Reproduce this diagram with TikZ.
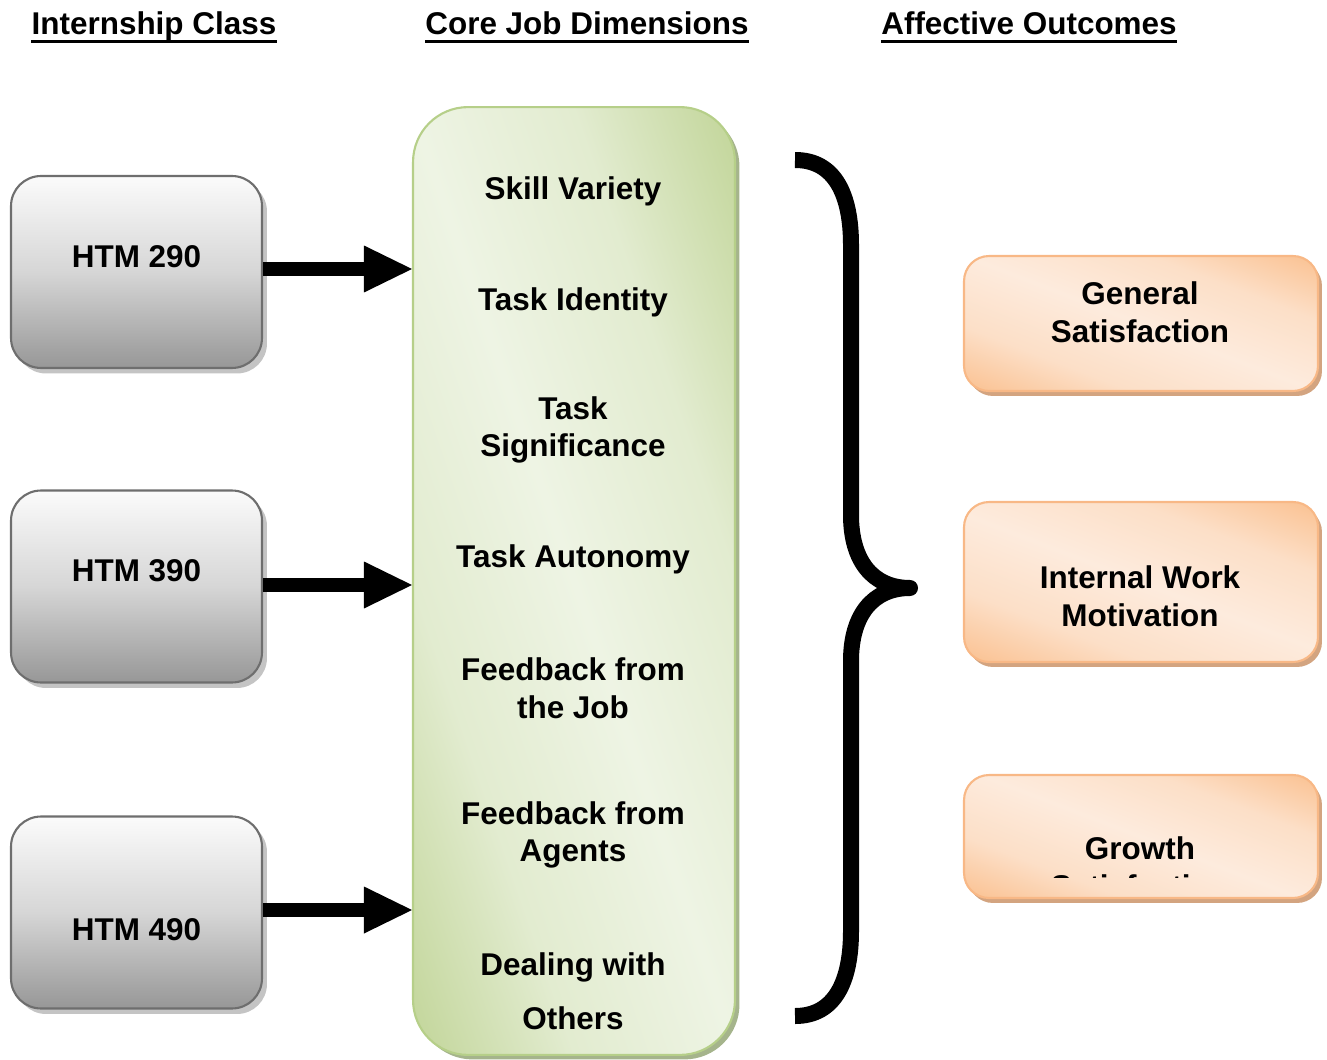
\documentclass[tikz,border=0pt]{standalone}
\usepackage{fontspec}
\setmainfont{Liberation Sans}
\usetikzlibrary{arrows.meta,shadows,positioning}

\definecolor{boxline}{HTML}{6E6E6E}
\definecolor{greylight}{HTML}{FBFBFB}
\definecolor{greymid}{HTML}{D6D6D6}
\definecolor{greydark}{HTML}{979797}
\definecolor{greyshadow}{HTML}{C4C4C4}
\definecolor{greenlight}{HTML}{EEF4E4}
\definecolor{greendark}{HTML}{C3D69B}
\colorlet{greenmix}{greenlight!72!greendark}
\definecolor{greenline}{HTML}{B6CF89}
\definecolor{greenshadow}{HTML}{A5B48C}
\definecolor{orangelight}{HTML}{FDEBDD}
\definecolor{orangedark}{HTML}{FAC08F}
\colorlet{orangemix}{orangelight!72!orangedark}
\definecolor{orangeline}{HTML}{F8B886}
\definecolor{orangeshadow}{HTML}{D3A480}

\pgfdeclareverticalshading{greenband}{100bp}{color(0bp)=(greendark); color(19bp)=(greendark);
      color(34bp)=(greenmix); color(50bp)=(greenlight); color(66bp)=(greenmix);
      color(81bp)=(greendark); color(100bp)=(greendark)}
\pgfdeclareverticalshading{orangeband}{100bp}{color(0bp)=(orangedark); color(17bp)=(orangedark);
      color(33bp)=(orangemix); color(50bp)=(orangelight); color(67bp)=(orangemix);
      color(83bp)=(orangedark); color(100bp)=(orangedark)}

\begin{document}
\begin{tikzpicture}[
      x = 0.02cm, y = -0.02cm,
      every node/.style = {font = \fontsize{17.9}{21.5}\selectfont\bfseries, align = center},
      header/.style = {inner sep = 0pt, text depth = 3.4pt, anchor = base},
      classbox/.style = {draw = boxline, line width = 1.2pt, rounded corners = 0.6cm,
            minimum width = 5.02cm, minimum height = 3.84cm,
            top color = greylight, bottom color = greydark, middle color = greymid,
            drop shadow = {shadow xshift = 0.1cm, shadow yshift = -0.11cm, fill = greyshadow, opacity = 1}},
      corebox/.style = {draw = greenline, line width = 1.2pt, rounded corners = 1.1cm,
            minimum width = 6.44cm, minimum height = 18.96cm,
            drop shadow = {shadow xshift = 0.09cm, shadow yshift = -0.09cm, fill = greenshadow, opacity = 1},
            shade, shading = greenband, shading angle = 109},
      outbox/.style = {draw = orangeline, line width = 1.2pt, rounded corners = 0.5cm,
            minimum width = 7.08cm,
            drop shadow = {shadow xshift = 0.08cm, shadow yshift = -0.1cm, fill = orangeshadow, opacity = 1},
            shade, shading = orangeband, shading angle = 159},
      bigarrow/.style = {line width = 0.28cm, -{Triangle[length = 0.96cm, width = 0.94cm, line width = 0pt]}},
      brace/.style = {line width = 0.32cm, line join = round}
      ]
      \useasboundingbox (0,0) rectangle (1327,1060);

      % column headings
      \node[header] (hdclass) at (154,35) {Internship Class};
      \node[header] (hdcore) at (587,35) {Core Job Dimensions};
      \node[header] (hdout) at (1029,35) {Affective Outcomes};
      \foreach \h in {hdclass, hdcore, hdout}
            \draw[line width = 1.7pt] (\h.south west) -- (\h.south east);

      % internship classes
      \node[classbox] (h290) at (136.5,272) {};
      \node[classbox] (h390) at (136.5,586.5) {};
      \node[classbox] (h490) at (136.5,912.5) {};
      \node (t290) at (136.5,257) {HTM 290};
      \node (t390) at (136.5,571) {HTM 390};
      \node (t490) at (136.5,930) {HTM 490};

      % core job dimensions
      \node[corebox] (core) at (574,581) {};
      \node (skill) at (573,191) {Skill Variety};
      \node (ident) at (573,302) {Task Identity};
      \node (signif) at (573,430) {Task\\Significance};
      \node (auton) at (573,559) {Task Autonomy};
      \node (fbjob) at (573,688) {Feedback from\\the Job};
      \node (fbagent) at (573,835) {Feedback from\\Agents};
      \node (deal) at (573,991) {Dealing with\\[9.5pt]Others};

      \draw[bigarrow] (h290.east |- 0,269) -- (core.west |- 0,269);
      \draw[bigarrow] (h390.east |- 0,585) -- (core.west |- 0,585);
      \draw[bigarrow] (h490.east |- 0,910) -- (core.west |- 0,910);

      % brace
      \draw[brace] (795,160) .. controls (835,160) and (851,195) .. (851,245)
            -- (851,515) .. controls (851,560) and (872,588) .. (910,588)
            .. controls (872,588) and (851,616) .. (851,661)
            -- (851,931) .. controls (851,981) and (835,1016) .. (795,1016);

      % affective outcomes
      \node[outbox, minimum height = 2.7cm] (gensat) at (1141,323.5) {};
      \node[outbox, minimum height = 3.2cm] (intmot) at (1141,582) {};
      \node[outbox, minimum height = 2.46cm] (growth) at (1141,836.5) {};
      \node (tgensat) at (1140,312) {General\\Satisfaction};
      \node (tintmot) at (1140,596) {Internal Work\\Motivation};
      \begin{scope}
            \clip (960,760) rectangle (1320,877);
            \node (tgrowth) at (1140,867) {Growth\\Satisfaction};
      \end{scope}
\end{tikzpicture}
\end{document}
